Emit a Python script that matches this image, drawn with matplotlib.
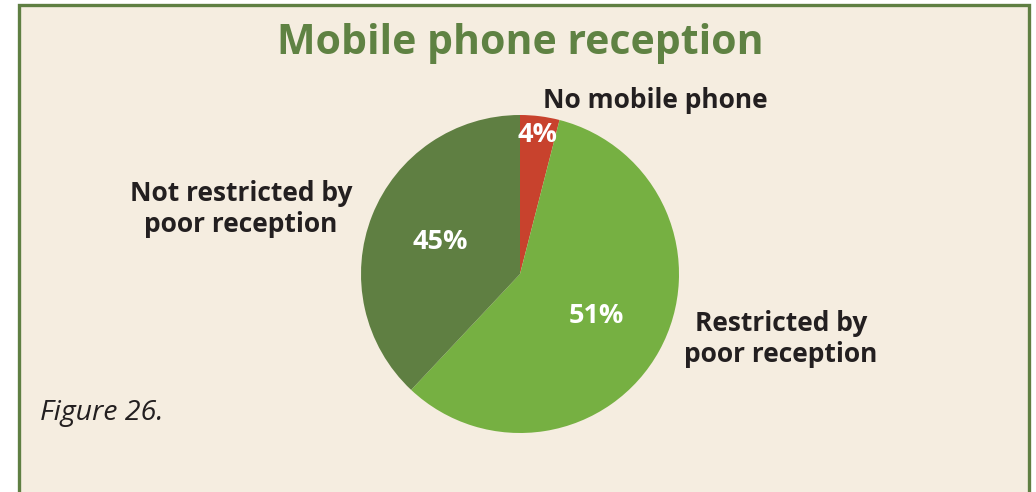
import matplotlib.pyplot as plt
from matplotlib.patches import Rectangle
import numpy as np

# Data
categories = ['No mobile phone', 'Restricted by\npoor reception', 'Not restricted by\npoor reception']
shares = [4, 58, 38]            # slice sizes as drawn in the picture
pct_labels = ['4%', '51%', '45%']  # labels as printed
colors = ['#c8422d', '#76b042', '#5f7f42']

bg = '#f5ede0'
green = '#5f8243'

fig = plt.figure(figsize=(10.36, 4.92), dpi=100)
fig.patch.set_facecolor('white')

W, H = 1036, 492

# beige panel with green frame
fig.patches.append(Rectangle((18.5 / W, -0.05), (1029 - 18.5) / W, (H - 5) / H + 0.05,
                             transform=fig.transFigure, facecolor=bg,
                             edgecolor='#5f7f42', linewidth=2.4, zorder=-5))

# pie axes placed by pixels
cx, cy, r = 520, 274, 159
ax = fig.add_axes([(cx - r) / W, (H - cy - r) / H, 2 * r / W, 2 * r / H], zorder=2)
ax.set_facecolor('none')
wedges, _ = ax.pie(shares, colors=colors, startangle=90, counterclock=False,
                   radius=1, wedgeprops=dict(linewidth=0))
ax.set_xlim(-1, 1)
ax.set_ylim(-1, 1)
ax.set_aspect('equal')
ax.axis('off')

dists = [0.88, 0.55, 0.54]
for w, lab, d in zip(wedges, pct_labels, dists):
    ang = np.deg2rad((w.theta1 + w.theta2) / 2)
    ax.text(d * np.cos(ang), d * np.sin(ang), lab, ha='center', va='center',
            color='white', fontsize=19.5, fontweight='bold', family='Open Sans')

# title
fig.text(520 / W, 1 - 44 / H, 'Mobile phone reception', ha='center', va='center',
         color=green, fontsize=29.5, fontweight='bold', family='Open Sans')

# category labels
lab_kw = dict(color='#231f20', fontsize=19, fontweight='bold', family='Open Sans',
              linespacing=1.2)
fig.text(543 / W, 1 - 100 / H, categories[0], ha='left', va='center', **lab_kw)
fig.text(781 / W, 1 - 339 / H, categories[1], ha='center', va='center', **lab_kw)
fig.text(241 / W, 1 - 209 / H, categories[2], ha='center', va='center', **lab_kw)

# figure caption
fig.text(40 / W, 1 - 413 / H, 'Figure 26.', ha='left', va='center',
         color='#231f20', fontsize=20.5, style='italic', family='Open Sans')

fig.savefig('out.png', dpi=100, facecolor=fig.get_facecolor())
